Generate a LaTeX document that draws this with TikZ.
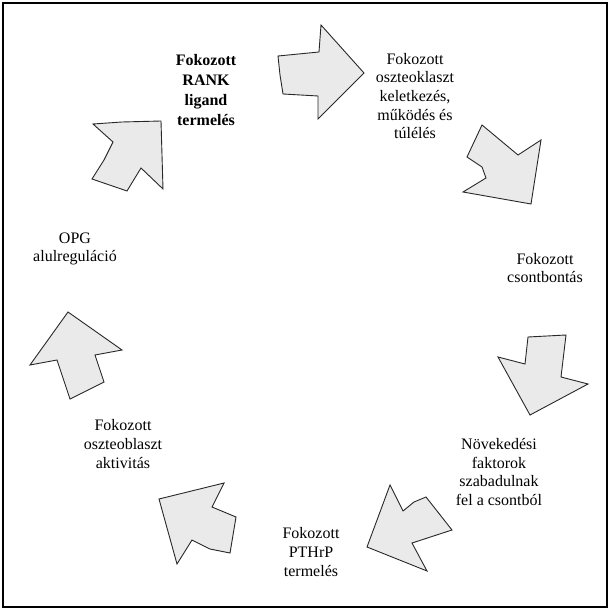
\documentclass[tikz,border=0pt]{standalone}
\usepackage{fontspec}
\setmainfont{Liberation Serif}
\definecolor{arrowfill}{RGB}{234,234,234}
\definecolor{arrowline}{RGB}{40,40,40}
\begin{document}
\begin{tikzpicture}[x=1pt,y=-1pt,
  blockarrow/.style={fill=arrowfill,draw=arrowline,line width=0.9pt,line join=miter},
  lbl/.style={align=center,inner sep=0pt,font=\fontsize{16}{18.6}\selectfont},
  boldlbl/.style={align=center,inner sep=0pt,font=\fontsize{16}{19.8}\selectfont\bfseries}]
\useasboundingbox (0,0) rectangle (611,612);
\draw[line width=2.6pt] (3,3) rectangle (607,607);

% block arrows around the cycle
\path[blockarrow] (278,56) -- (319,52) -- (321,25) -- (364,73) -- (318,119) -- (318,96) -- (283,94) -- (280,75) -- cycle;
\path[blockarrow] (482,125) -- (518,155) -- (541,140) -- (531,204) -- (463,192) -- (486,178) -- (482,167) -- (467,157) -- cycle;
\path[blockarrow] (528,337) -- (566,335) -- (561,377) -- (588,384) -- (530,415) -- (498,357) -- (525,364) -- cycle;
\path[blockarrow] (390,485) -- (403,511) -- (414,502) -- (426,497) -- (452,530) -- (412,543) -- (427,571) -- (367,547) -- cycle;
\path[blockarrow] (224,483) -- (212,507) -- (236,517) -- (230,553) -- (210,549) -- (192,540) -- (177,564) -- (159,499) -- cycle;
\path[blockarrow] (68,312) -- (122,350) -- (95,355) -- (104,382) -- (70,399) -- (57,360) -- (30,365) -- cycle;
\path[blockarrow] (93,124) -- (122,122) -- (161,121) -- (163,189) -- (141,168) -- (127,191) -- (92,179) -- (104,160) -- (113,142) -- cycle;

% labels
\node[boldlbl] (rank) at (206,90) {Fokozott\\RANK\\ligand\\termelés};
\node[lbl] (oclast) at (415,96) {Fokozott\\oszteoklaszt\\keletkezés,\\működés és\\túlélés};
\node[lbl] (bont) at (545,268) {Fokozott\\csontbontás};
\node[lbl] (grow) at (499,472) {Növekedési\\faktorok\\szabadulnak\\fel a csontból};
\node[lbl] (pthrp) at (311,552) {Fokozott\\PTHrP\\termelés};
\node[lbl] (oblast) at (123,444) {Fokozott\\oszteoblaszt\\aktivitás};
\node[lbl] (opg) at (75,249) {OPG\\alulreguláció};
\end{tikzpicture}
\end{document}
